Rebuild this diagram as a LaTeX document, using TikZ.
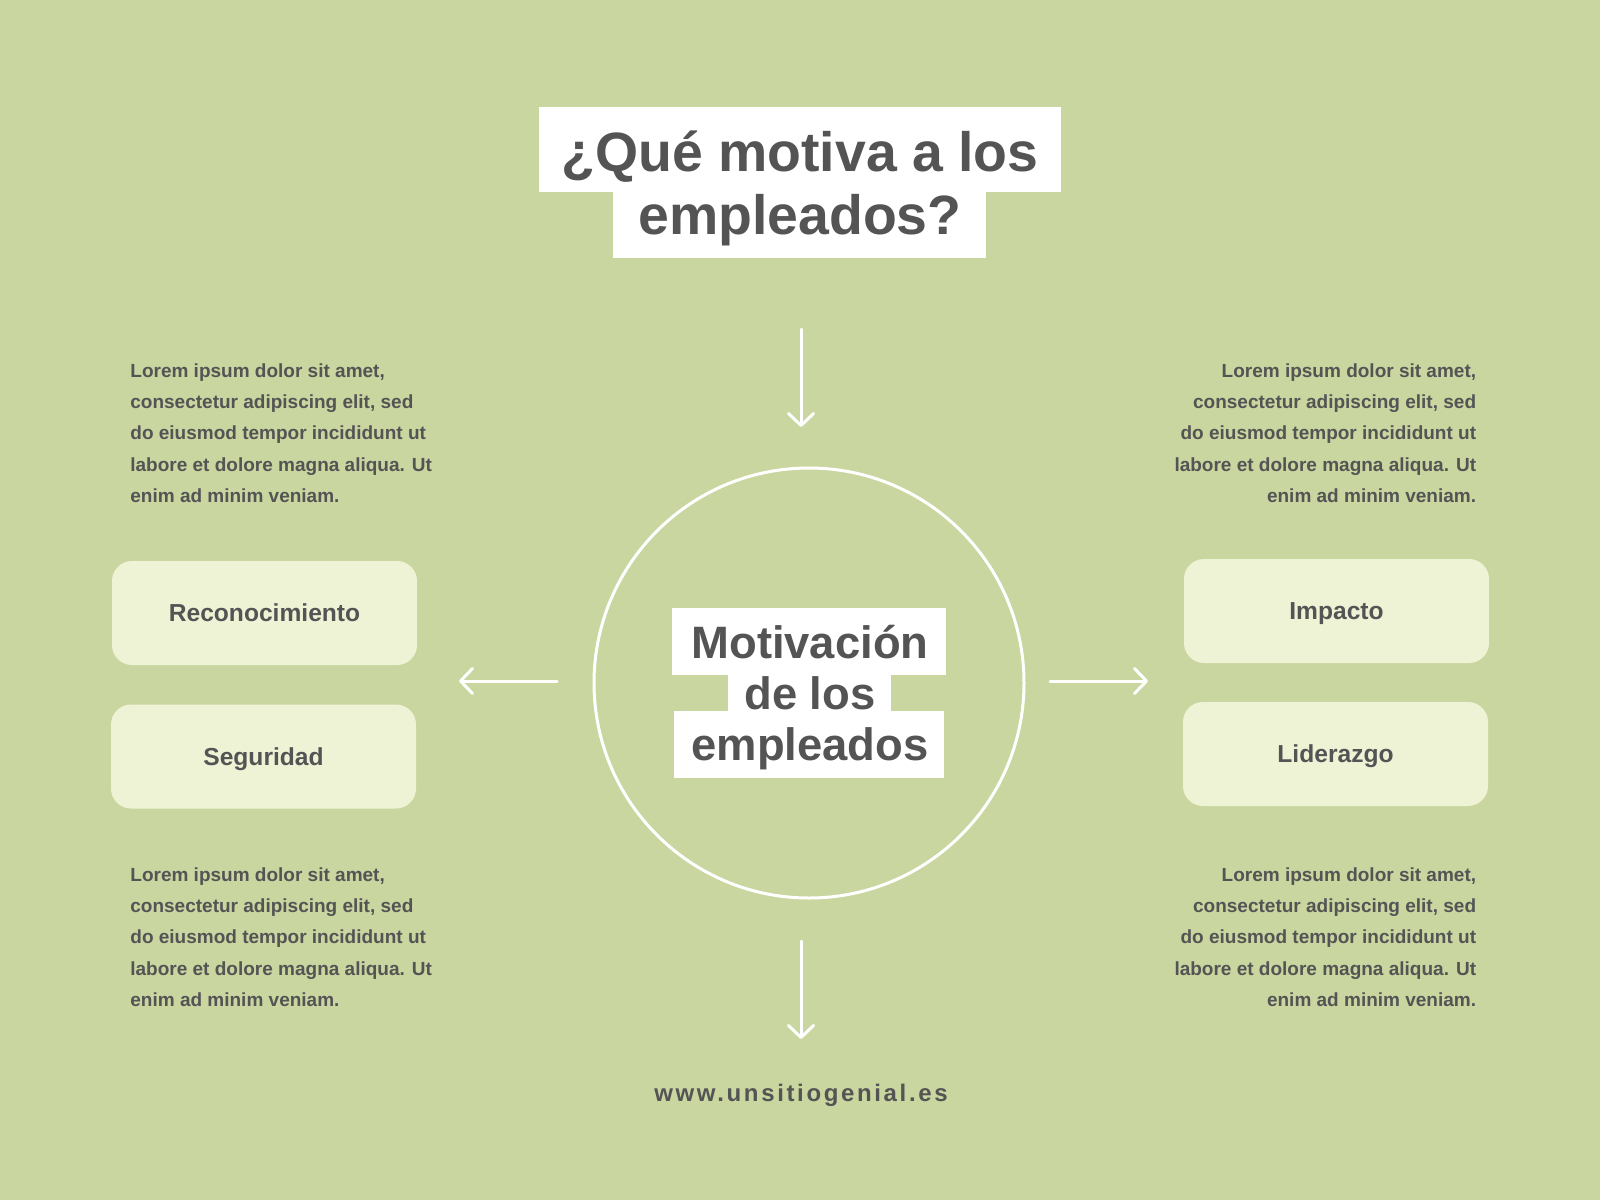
\documentclass[tikz,border=0pt]{standalone}
\usepackage{fontspec}
\setmainfont{Liberation Sans}
\newfontfamily\urlfont{Liberation Sans}[LetterSpace=11]
\usetikzlibrary{arrows.meta}
\definecolor{bg}{HTML}{C9D6A0}
\definecolor{boxfill}{HTML}{EEF3D6}
\definecolor{ink}{HTML}{545454}
\tikzset{
  arr/.style={draw=white, line width=1.5pt, line cap=round,
    -{Straight Barb[length=6pt,width=12.5pt,line cap=round,line join=round]}},
  pill/.style={rectangle, rounded corners=10pt, fill=boxfill, minimum width=152.5pt,
    minimum height=52pt, inner sep=0pt, text height=8.8pt, text depth=0pt,
    text=ink, font=\bfseries\fontsize{12.3}{14}\selectfont},
  whitebox/.style={rectangle, fill=white, inner sep=0pt},
  titletext/.style={anchor=base, inner sep=0pt, text=ink, font=\bfseries\fontsize{27.7}{32}\selectfont},
  centertext/.style={anchor=base, inner sep=0pt, text=ink, font=\bfseries\fontsize{22.7}{26}\selectfont},
  para/.style={inner sep=0pt, text=ink, font=\bfseries\fontsize{9.5}{15.7}\selectfont},
}
\begin{document}
\begin{tikzpicture}[x=0.5pt,y=-0.5pt]
\fill[bg] (0,0) rectangle (1600,1200);
\useasboundingbox (0,0) rectangle (1600,1200);

% title
\node[whitebox, minimum width=261pt, minimum height=42.5pt] (tb1) at (800,149.5) {};
\node[whitebox, minimum width=186.5pt, minimum height=33pt] (tb2) at (799.5,225) {};
\node[titletext] (t1) at (800,171.5) {¿Qué motiva a los};
\node[titletext] (t2) at (800,234.5) {empleados?};

% circle
\node[circle, draw=white, line width=1.5pt, minimum size=215pt, inner sep=0pt] (circ) at (809,683) {};
\node[whitebox, minimum width=137pt, minimum height=33.5pt] (cb1) at (809,641.5) {};
\node[whitebox, minimum width=81.5pt, minimum height=18.5pt] (cb2) at (809.5,693) {};
\node[whitebox, minimum width=135pt, minimum height=33.5pt] (cb3) at (809,744.5) {};
\node[centertext] (c1) at (810,658) {Motivación};
\node[centertext] (c2) at (810,709) {de los};
\node[centertext] (c3) at (810,760) {empleados};

% arrows
\coordinate (aTs) at (801,329);  \coordinate (aTe) at (801,427);
\coordinate (aLs) at (557,681);  \coordinate (aLe) at (459,681);
\coordinate (aRs) at (1050,681); \coordinate (aRe) at (1148,681);
\coordinate (aBs) at (801,941);  \coordinate (aBe) at (801,1039);
\draw[arr] (aTs) -- (aTe);
\draw[arr] (aLs) -- (aLe);
\draw[arr] (aRs) -- (aRe);
\draw[arr] (aBs) -- (aBe);

% boxes
\node[pill] (reco) at (264.5,613) {Reconocimiento};
\node[pill] (segu) at (263.5,756.5) {Seguridad};
\node[pill] (impa) at (1336.5,611) {Impacto};
\node[pill] (lide) at (1335.5,754) {Liderazgo};

% paragraphs
\node[para, anchor=north west, align=left] (pTL) at (130,363) {Lorem ipsum dolor sit amet,\\consectetur adipiscing elit, sed\\do eiusmod tempor incididunt ut\\labore et dolore magna aliqua. Ut\\enim ad minim veniam.};
\node[para, anchor=north west, align=left] (pBL) at (130,867) {Lorem ipsum dolor sit amet,\\consectetur adipiscing elit, sed\\do eiusmod tempor incididunt ut\\labore et dolore magna aliqua. Ut\\enim ad minim veniam.};
\node[para, anchor=north east, align=right] (pTR) at (1476.5,363) {Lorem ipsum dolor sit amet,\\consectetur adipiscing elit, sed\\do eiusmod tempor incididunt ut\\labore et dolore magna aliqua. Ut\\enim ad minim veniam.};
\node[para, anchor=north east, align=right] (pBR) at (1476.5,867) {Lorem ipsum dolor sit amet,\\consectetur adipiscing elit, sed\\do eiusmod tempor incididunt ut\\labore et dolore magna aliqua. Ut\\enim ad minim veniam.};

% url
\node[anchor=base, inner sep=0pt, text=ink, font=\urlfont\bfseries\fontsize{12}{14}\selectfont] (url) at (801,1101) {www.unsitiogenial.es};
\end{tikzpicture}
\end{document}
